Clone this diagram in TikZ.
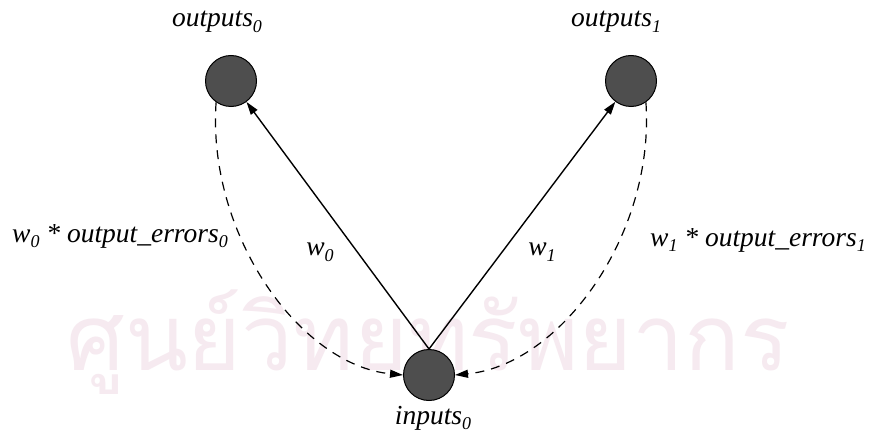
\documentclass[tikz,border=0pt]{standalone}
\usepackage{fontspec}
\setmainfont{Liberation Serif}
\newfontfamily\thaifont[Script=Thai]{Loma}
\usetikzlibrary{arrows.meta}
\newcommand{\sbs}[1]{\raisebox{-0.45ex}{\fontsize{18}{18}\selectfont #1}}
\definecolor{wm}{HTML}{F6EAF0}
\definecolor{unitfill}{HTML}{4E4E4E}
\begin{document}
\begin{tikzpicture}[x=1pt,y=-1pt,
  unit/.style={circle,draw=black,line width=1pt,fill=unitfill,minimum size=51pt,inner sep=0pt},
  lbl/.style={font=\fontsize{27.5}{30}\selectfont\itshape,inner sep=0pt},
  weight/.style={draw=black,line width=1.4pt,-{Triangle[length=13pt,width=8pt]}},
  errflow/.style={draw=black,line width=1.2pt,dash pattern=on 9pt off 7pt,-{Triangle[length=13pt,width=8pt]}}
]
\useasboundingbox[fill=white] (0,0) rectangle (872,433);
% watermark
\node[text=wm,inner sep=0pt,anchor=base,font=\thaifont\fontsize{92}{96}\selectfont] (wmark) at (428,370) {ศูนย์วิทยทรัพยากร};
% units
\node[unit] (o0) at (231,81) {};
\node[unit] (o1) at (631,81) {};
\node[unit] (i0) at (429,375) {};
% labels
\node[lbl] (lo0) at (217,22) {outputs\sbs{0}};
\node[lbl] (lo1) at (616,22) {outputs\sbs{1}};
\node[lbl] (li0) at (433,418) {inputs\sbs{0}};
\node[lbl] (lw0) at (320,252) {w\sbs{0}};
\node[lbl] (lw1) at (542,252) {w\sbs{1}};
\node[lbl,anchor=west] (le0) at (12,236) {w\sbs{0} * output\_errors\sbs{0}};
\node[lbl,anchor=west] (le1) at (650,240) {w\sbs{1} * output\_errors\sbs{1}};
% connectors
\draw[weight] (i0.north) -- (o0);
\draw[weight] (i0.north) -- (o1);
\draw[errflow] (o0.-125) .. controls (207,235) and (300,365) .. (i0.west);
\draw[errflow] (o1.-55) .. controls (655,235) and (560,365) .. (i0.east);
\end{tikzpicture}
\end{document}
